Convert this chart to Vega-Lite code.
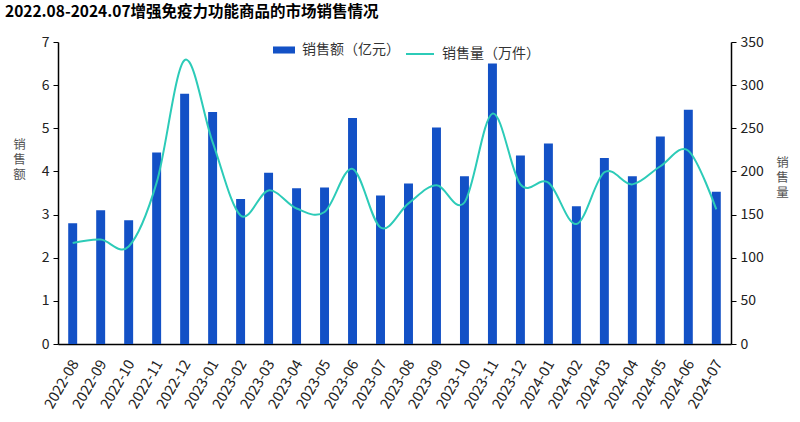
{
  "$schema": "https://vega.github.io/schema/vega-lite/v6.json",
  "autosize": "none",
  "width": 673,
  "height": 302,
  "padding": {"left": 58, "top": 42, "right": 69, "bottom": 78},
  "background": "white",
  "title": {
    "text": "2022.08-2024.07增强免疫力功能商品的市场销售情况",
    "anchor": "start",
    "frame": "group",
    "dx": -53,
    "offset": 15,
    "font": "Noto Sans CJK SC",
    "fontSize": 15.5,
    "fontWeight": "bold",
    "color": "#000000"
  },
  "config": {
    "view": {"stroke": null},
    "font": "Noto Sans CJK SC",
    "axis": {
      "grid": false,
      "domainColor": "#000000",
      "domainWidth": 1.5,
      "tickColor": "#000000",
      "labelFont": "Noto Sans CJK SC",
      "labelFontSize": 13,
      "labelColor": "#222222",
      "labelOverlap": false,
      "titleFont": "Noto Sans CJK SC",
      "titleFontSize": 12.5,
      "titleFontWeight": "normal",
      "titleColor": "#555555"
    },
    "legend": {
      "labelFont": "Noto Sans CJK SC",
      "labelFontSize": 14,
      "labelColor": "#333333",
      "labelOffset": 7,
      "padding": 0
    }
  },
  "data": {
    "values": [
      {"month": "2022-08", "amount": 2.80, "volume": 117},
      {"month": "2022-09", "amount": 3.10, "volume": 121},
      {"month": "2022-10", "amount": 2.87, "volume": 113},
      {"month": "2022-11", "amount": 4.44, "volume": 187},
      {"month": "2022-12", "amount": 5.80, "volume": 329},
      {"month": "2023-01", "amount": 5.38, "volume": 234},
      {"month": "2023-02", "amount": 3.36, "volume": 149},
      {"month": "2023-03", "amount": 3.97, "volume": 178},
      {"month": "2023-04", "amount": 3.61, "volume": 157},
      {"month": "2023-05", "amount": 3.63, "volume": 153},
      {"month": "2023-06", "amount": 5.24, "volume": 203},
      {"month": "2023-07", "amount": 3.44, "volume": 135},
      {"month": "2023-08", "amount": 3.72, "volume": 163},
      {"month": "2023-09", "amount": 5.02, "volume": 184},
      {"month": "2023-10", "amount": 3.89, "volume": 164},
      {"month": "2023-11", "amount": 6.50, "volume": 267},
      {"month": "2023-12", "amount": 4.37, "volume": 185},
      {"month": "2024-01", "amount": 4.65, "volume": 187},
      {"month": "2024-02", "amount": 3.19, "volume": 139},
      {"month": "2024-03", "amount": 4.31, "volume": 199},
      {"month": "2024-04", "amount": 3.89, "volume": 185},
      {"month": "2024-05", "amount": 4.81, "volume": 206},
      {"month": "2024-06", "amount": 5.43, "volume": 224},
      {"month": "2024-07", "amount": 3.53, "volume": 156}
    ]
  },
  "encoding": {
    "x": {
      "field": "month",
      "type": "ordinal",
      "sort": null,
      "scale": {"paddingInner": 0.68, "paddingOuter": 0.365},
      "axis": {
        "title": null,
        "labelAngle": -60,
        "ticks": false,
        "labelPadding": 17,
        "labelOffset": 3,
        "labelFontSize": 14.5,
        "domainWidth": 1.5
      }
    }
  },
  "layer": [
    {
      "mark": {"type": "bar", "color": "#1351C6"},
      "encoding": {
        "y": {
          "field": "amount",
          "type": "quantitative",
          "scale": {"domain": [0, 7]},
          "axis": {
            "title": ["销", "售", "额"],
            "titleAngle": 0,
            "titleX": -39,
            "titleY": 102,
            "titleAlign": "center",
            "titleBaseline": "middle",
            "titleLineHeight": 15,
            "values": [0, 1, 2, 3, 4, 5, 6, 7],
            "labelFontSize": 14,
            "tickSize": 5,
            "labelPadding": 4
          }
        },
        "fill": {
          "datum": "销售额（亿元）",
          "type": "nominal",
          "scale": {"range": ["#1351C6"]},
          "legend": {
            "title": null,
            "orient": "none",
            "legendX": 215,
            "legendY": -3,
            "symbolType": "M-1,-0.32H1V0.32H-1Z",
            "symbolSize": 484,
            "symbolStrokeWidth": 0
          }
        }
      }
    },
    {
      "mark": {"type": "line", "interpolate": "cardinal", "strokeWidth": 2, "color": "#2CCBB8"},
      "encoding": {
        "y": {
          "field": "volume",
          "type": "quantitative",
          "scale": {"domain": [0, 350]},
          "axis": {
            "orient": "right",
            "title": ["销", "售", "量"],
            "titleAngle": 0,
            "titleX": 51,
            "titleY": 120,
            "titleAlign": "center",
            "titleBaseline": "middle",
            "titleLineHeight": 15,
            "values": [0, 50, 100, 150, 200, 250, 300, 350],
            "labelFontSize": 14,
            "tickSize": 5,
            "labelPadding": 4
          }
        },
        "stroke": {
          "datum": "销售量（万件）",
          "type": "nominal",
          "scale": {"range": ["#2CCBB8"]},
          "legend": {
            "title": null,
            "orient": "none",
            "legendX": 347,
            "legendY": -3,
            "symbolType": "stroke",
            "symbolSize": 784,
            "symbolStrokeWidth": 2
          }
        }
      }
    }
  ],
  "resolve": {"scale": {"y": "independent"}}
}
